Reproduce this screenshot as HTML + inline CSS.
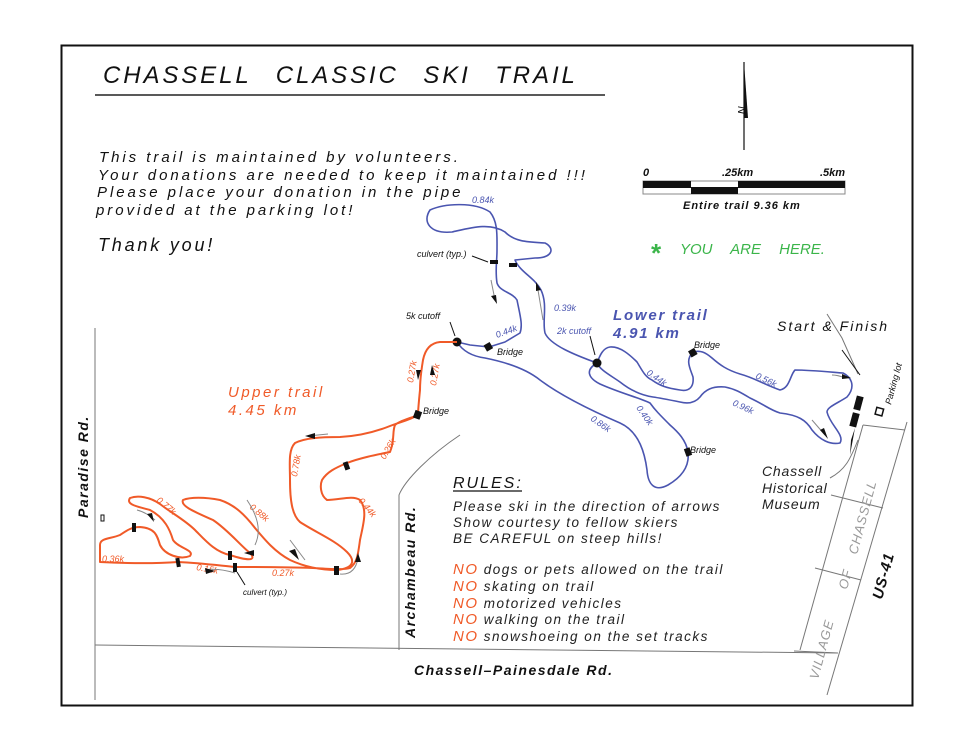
<!DOCTYPE html>
<html><head><meta charset="utf-8"><style>
html,body{margin:0;padding:0;background:#fff}
svg{display:block}
text{font-family:"Liberation Sans",sans-serif;font-style:italic}
</style></head><body>
<svg width="972" height="751" viewBox="0 0 972 751" xmlns="http://www.w3.org/2000/svg">
<rect x="0" y="0" width="972" height="751" fill="#fff"/>
<rect x="61.5" y="45.5" width="851" height="660" fill="none" stroke="#111" stroke-width="2"/>

<text x="103" y="83" font-size="24" letter-spacing="2.9" word-spacing="15" fill="#111">CHASSELL CLASSIC SKI TRAIL</text>
<line x1="95" y1="95" x2="605" y2="95" stroke="#222" stroke-width="1.5"/>

<g font-size="15" letter-spacing="2.95" fill="#111">
<text x="99" y="162">This trail is maintained by volunteers.</text>
<text x="98" y="180">Your donations are needed to keep it maintained !!!</text>
<text x="97" y="197">Please place your donation in the pipe</text>
<text x="96" y="215">provided at the parking lot!</text>
</g>
<text x="98" y="251" font-size="18" letter-spacing="2.8" fill="#111">Thank you!</text>

<path d="M744,62 L744,150" stroke="#111" stroke-width="1.2"/>
<path d="M744,62 L748,118 L744,118 Z" fill="#111"/>
<text x="738" y="118" font-size="11" font-style="normal" fill="#111" transform="rotate(90 744 112)">N</text>

<g font-size="11" font-weight="bold" fill="#111">
<text x="643" y="176">0</text><text x="722" y="176">.25km</text><text x="820" y="176">.5km</text>
<text x="683" y="209" letter-spacing="1">Entire trail 9.36 km</text>
</g>
<rect x="643" y="181" width="202" height="13" fill="#fff" stroke="#888" stroke-width="1"/>
<rect x="643" y="181" width="48" height="7" fill="#111"/>
<rect x="738" y="181" width="107" height="7" fill="#111"/>
<rect x="691" y="187" width="47" height="7" fill="#111"/>

<text x="650" y="262" font-size="26" font-style="normal" font-weight="bold" fill="#3bb54a">*</text>
<text x="680" y="254" font-size="15" fill="#3bb54a" word-spacing="14">YOU ARE HERE.</text>

<g stroke="#777" stroke-width="1" fill="none">
<line x1="95" y1="328" x2="95" y2="700"/>
<line x1="95" y1="645" x2="838" y2="653"/>
<path d="M399,650 L399,495 C405,480 430,455 460,435"/>
<line x1="800" y1="650" x2="863" y2="425"/>
<line x1="827" y1="695" x2="907" y2="422"/>
<line x1="863" y1="425" x2="905" y2="430"/>
<line x1="831" y1="495" x2="883" y2="508"/>
<line x1="815" y1="568" x2="861" y2="580"/>
<line x1="794" y1="651" x2="838" y2="653"/>
<path d="M858,374 L842,338 L827,314" stroke="#777"/>
<path d="M830,478 C845,470 850,460 858,440" />
</g>
<text x="0" y="0" font-size="14" font-style="normal" font-weight="bold" letter-spacing="1.5" font-family="Liberation Serif" fill="#111" transform="translate(88 518) rotate(-90)">Paradise Rd.</text>
<text x="0" y="0" font-size="14" font-style="normal" font-weight="bold" letter-spacing="1.5" font-family="Liberation Serif" fill="#111" transform="translate(415 638) rotate(-90)">Archambeau Rd.</text>
<text x="414" y="675" font-size="14" font-style="normal" font-weight="bold" letter-spacing="1.5" font-family="Liberation Serif" fill="#111">Chassell–Painesdale Rd.</text>
<text x="0" y="0" font-size="15" font-weight="bold" letter-spacing="1" fill="#111" transform="translate(882 600) rotate(-75)">US-41</text>
<g font-size="13" fill="#999" letter-spacing="1">
<text transform="translate(818 680) rotate(-75)">VILLAGE</text>
<text transform="translate(847 590) rotate(-75)">OF</text>
<text transform="translate(857 555) rotate(-75)">CHASSELL</text>
</g>

<rect x="855" y="396" width="7" height="14" fill="#111" transform="rotate(15 858 403)"/>
<rect x="851" y="413" width="7" height="14" fill="#111" transform="rotate(15 855 420)"/>
<rect x="876" y="408" width="7" height="7" fill="none" stroke="#111" stroke-width="1.5" transform="rotate(15 879 411)"/>
<text transform="translate(891 405) rotate(-75)" font-size="9" font-style="normal" fill="#111">Parking lot</text>
<path d="M850,455 L855,428 L851,440 Z" fill="#111"/>

<text x="777" y="331" font-size="14" letter-spacing="2" fill="#111">Start &amp; Finish</text>
<g font-size="14" fill="#222" letter-spacing="0.8" font-weight="300">
<text x="762" y="476">Chassell</text><text x="762" y="493">Historical</text><text x="762" y="509">Museum</text>
</g>

<g stroke="#4a55b0" stroke-width="1.6" fill="none" stroke-linejoin="round">
<path d="M457,342 L470,345 L489,347 L505,342 L520,333 C523,325 520,315 517,300 C512,292 500,292 497,283 C495,270 497,262 497,250 C497,235 498,222 490,212 C475,202 445,203 430,210 C422,222 430,234 452,232 C470,228 490,222 505,232 C515,242 528,242 545,243 C555,248 553,258 535,258 L515,260 C520,272 535,278 541,290 C548,305 542,320 545,333 C550,345 575,355 597,363"/>
<path d="M457,342 C462,350 470,356 485,358 C505,362 525,368 540,380 C560,395 590,410 620,423 C640,432 645,455 647,470 C648,485 655,492 668,485 C680,478 690,468 688,452 C686,440 678,432 670,425 C660,415 655,410 650,403 C640,398 620,393 600,384 C588,378 585,370 597,363"/>
<path d="M597,363 C600,355 603,348 610,347 C620,346 630,355 637,362 C642,370 645,377 652,380 C660,386 667,388 680,390 C690,392 694,386 693,377 C690,368 685,360 693,352 C700,350 705,352 712,358 C720,365 727,370 740,374 C755,378 765,385 780,390 C790,388 790,375 795,370 C810,370 830,372 843,373 C853,378 855,388 847,397 C838,403 827,407 827,412 C830,425 845,435 840,443 C830,445 820,440 812,430 C806,420 798,415 780,413 C770,410 765,405 750,398 C740,392 735,389 725,387 C712,386 705,390 700,397 C695,403 688,404 680,402 C670,400 660,398 653,397 C640,395 630,390 620,382 C610,375 600,370 597,363"/>
</g>
<g fill="#111">
<circle cx="457" cy="342" r="4.5"/><circle cx="597" cy="363" r="4.5"/>
<rect x="485" y="343" width="7" height="7" transform="rotate(-30 489 347)"/>
<rect x="689" y="349" width="7" height="7" transform="rotate(-30 693 352)"/>
<rect x="685" y="448" width="6" height="8" transform="rotate(-20 688 452)"/>
<rect x="490" y="260" width="8" height="4"/><rect x="509" y="263" width="8" height="4"/>
</g>
<g font-size="9" fill="#4a55b0">
<text x="472" y="203">0.84k</text>
<text x="554" y="311">0.39k</text>
<text x="497" y="338" transform="rotate(-20 497 338)">0.44k</text>
<text x="557" y="334">2k cutoff</text>
<text x="646" y="374" transform="rotate(35 646 374)">0.44k</text>
<text x="755" y="378" transform="rotate(25 755 378)">0.56k</text>
<text x="732" y="405" transform="rotate(25 732 405)">0.96k</text>
<text x="636" y="408" transform="rotate(55 636 408)">0.40k</text>
<text x="590" y="420" transform="rotate(35 590 420)">0.86k</text>
</g>
<text x="613" y="320" font-size="15" font-weight="bold" letter-spacing="1.8" fill="#4a55b0">Lower trail</text>
<text x="613" y="338" font-size="15" font-weight="bold" letter-spacing="1.8" fill="#4a55b0">4.91 km</text>

<g font-size="9" fill="#111">
<text x="417" y="257">culvert (typ.)</text>
<text x="406" y="319">5k cutoff</text>
<text x="497" y="355">Bridge</text>
<text x="694" y="348">Bridge</text>
<text x="690" y="453">Bridge</text>
<text x="423" y="414">Bridge</text>
<text x="243" y="595" font-size="8">culvert (typ.)</text>
</g>
<g stroke="#111" stroke-width="1" fill="#111">
<line x1="472" y1="256" x2="488" y2="262"/>
<line x1="450" y1="322" x2="455" y2="336"/>
<line x1="590" y1="336" x2="595" y2="355"/>
<line x1="245" y1="585" x2="237" y2="572"/>
<line x1="842" y1="350" x2="860" y2="375"/>
</g>

<g stroke="#f05a28" stroke-width="2" fill="none" stroke-linejoin="round">
<path d="M457,342 L440,342 C430,343 425,350 423,360 C421,372 420,380 420,390 C419,400 418,410 418,415 C410,420 400,422 390,426 C375,432 360,436 340,437 C320,437 305,438 295,443 C288,450 290,465 290,480 C290,500 292,515 300,522 C315,532 335,540 347,552 C355,560 355,568 337,570 C320,570 305,567 290,560 C275,552 265,540 255,528 C245,515 235,505 220,500 C205,497 190,497 183,500 C180,506 195,512 213,520 C228,530 240,545 250,553 C258,562 245,560 230,555 C215,552 205,540 195,530 C185,520 170,512 160,504 C150,497 138,495 130,498 C125,505 140,507 150,510 C165,518 170,530 173,540 C178,548 195,550 190,556 C180,560 165,555 160,545 C157,535 155,528 140,527 C130,527 125,532 120,535 C110,539 100,538 100,545 L100,562 C120,563 150,564 178,562 C200,563 215,565 235,567 C260,567 285,567 313,568 C330,569 345,570 350,568 C357,563 358,555 360,540 C363,525 368,510 360,500 C352,495 340,500 327,500 C320,495 320,485 322,480 C327,472 335,468 347,463 C360,458 375,455 390,452 C395,440 392,432 395,425 C398,422 405,420 418,415"/>
</g>
<g fill="#111">
<rect x="414" y="411" width="7" height="8" transform="rotate(20 418 415)"/>
<rect x="334" y="566" width="5" height="9"/>
<rect x="344" y="462" width="5" height="8" transform="rotate(-20 346 466)"/>
<rect x="233" y="563" width="4" height="9"/>
<rect x="228" y="551" width="4" height="9"/>
<rect x="176" y="558" width="4" height="9" transform="rotate(-10 178 562)"/>
<rect x="132" y="523" width="4" height="9"/>
</g>
<g font-size="9" fill="#f05a28">
<text x="413" y="383" transform="rotate(-80 413 383)">0.27k</text>
<text x="436" y="386" transform="rotate(-80 436 386)">0.27k</text>
<text x="385" y="460" transform="rotate(-60 385 460)">0.26k</text>
<text x="297" y="477" transform="rotate(-80 297 477)">0.78k</text>
<text x="358" y="501" transform="rotate(50 358 501)">0.44k</text>
<text x="249" y="508" transform="rotate(40 249 508)">0.88k</text>
<text x="156" y="501" transform="rotate(40 156 501)">0.77k</text>
<text x="102" y="562">0.36k</text>
<text x="196" y="570" transform="rotate(10 196 570)">0.15k</text>
<text x="272" y="576">0.27k</text>
</g>
<text x="228" y="397" font-size="15" letter-spacing="2.5" fill="#f05a28">Upper trail</text>
<text x="228" y="415" font-size="15" letter-spacing="2.5" fill="#f05a28">4.45 km</text>

<g stroke="#888" stroke-width="1" fill="none">
<path d="M308,436 L328,434"/><path d="M290,540 L305,560"/><path d="M340,574 C350,575 356,570 358,558"/>
<path d="M247,500 C257,515 262,530 255,545"/><path d="M205,570 C215,568 225,570 235,573"/>
<path d="M137,510 C145,512 150,516 155,520"/>
<path d="M491,280 L495,300"/><path d="M543,320 L537,284"/>
<path d="M812,420 L825,435"/><path d="M845,378 C840,376 837,375 832,375"/>
</g>
<g fill="#111">
<path d="M305,436 L315,433 L315,439 Z"/><path d="M299,560 L289,551 L295,549 Z"/>
<path d="M358,553 L361,562 L355,562 Z"/><path d="M244,553 L254,550 L254,556 Z"/>
<path d="M215,571 L205,568 L206,574 Z"/><path d="M154,522 L147,514 L152,513 Z"/>
<path d="M497,304 L491,296 L496,295 Z"/><path d="M536,282 L541,290 L536,291 Z"/>
<path d="M828,439 L820,430 L824,428 Z"/><path d="M851,378 L842,374 L842,379 Z"/>
<path d="M418,380 L416,370 L421,370 Z"/><path d="M432,365 L430,375 L435,375 Z"/>
</g>

<text x="453" y="488" font-size="16" letter-spacing="2" fill="#111">RULES:</text>
<line x1="453" y1="491" x2="522" y2="491" stroke="#111" stroke-width="1.3"/>
<g font-size="13.5" fill="#222" letter-spacing="1.5">
<text x="453" y="511">Please ski in the direction of arrows</text>
<text x="453" y="527">Show courtesy to fellow skiers</text>
<text x="453" y="543">BE CAREFUL on steep hills!</text>
<text x="453" y="574"><tspan fill="#f05a28" font-size="15">NO</tspan> dogs or pets allowed on the trail</text>
<text x="453" y="591"><tspan fill="#f05a28" font-size="15">NO</tspan> skating on trail</text>
<text x="453" y="608"><tspan fill="#f05a28" font-size="15">NO</tspan> motorized vehicles</text>
<text x="453" y="624"><tspan fill="#f05a28" font-size="15">NO</tspan> walking on the trail</text>
<text x="453" y="641"><tspan fill="#f05a28" font-size="15">NO</tspan> snowshoeing on the set tracks</text>
</g>
<rect x="101" y="515" width="3" height="6" fill="none" stroke="#111" stroke-width="1"/>
</svg>
</body></html>
